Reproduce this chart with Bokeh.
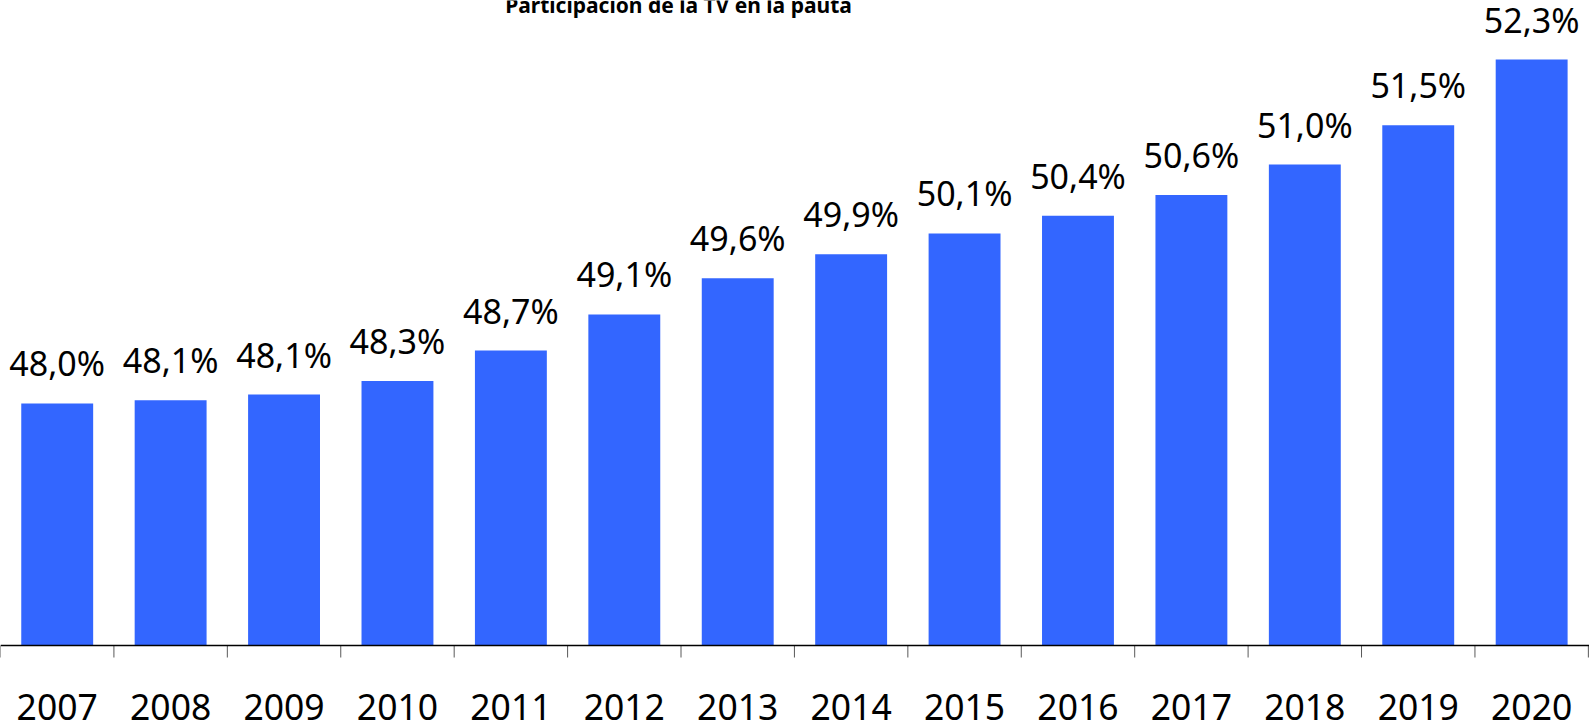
import numpy as np
from bokeh.plotting import figure
from bokeh.models import ColumnDataSource, Range1d, Label, Span
from bokeh.core.properties import value
from bokeh.embed import file_html
from bokeh.resources import INLINE

years = ["2007", "2008", "2009", "2010", "2011", "2012", "2013",
         "2014", "2015", "2016", "2017", "2018", "2019", "2020"]
share = [48.02, 48.06, 48.13, 48.30, 48.68, 49.13, 49.58,
         49.88, 50.14, 50.36, 50.62, 51.00, 51.49, 52.31]
title_text = "Participación de la TV en la pauta"

BASE = 45.0           # value at which the category axis sits
PX_PER_UNIT = 80.16   # vertical scale (pixels per percentage point)
TICK_LEN = 12 / PX_PER_UNIT

xs = np.arange(len(years)) + 0.5
edges = np.arange(len(years) + 1)
labels = [f"{v:.1f}".replace(".", ",") + "%" for v in share]
src = ColumnDataSource(dict(x=xs, y=share, label=labels, year=years,
                            base=[BASE] * len(years)))
tsrc = ColumnDataSource(dict(x=edges, y0=[BASE] * len(edges),
                             y1=[BASE - TICK_LEN] * len(edges)))

W, H = 1589, 727
AXIS_PX = 645  # pixel row of the category axis
p = figure(width=W, height=H, output_backend="svg", toolbar_location=None,
           x_range=Range1d(0, len(years) + 0.01),
           y_range=Range1d(BASE - (H - AXIS_PX) / PX_PER_UNIT, BASE + AXIS_PX / PX_PER_UNIT),
           x_axis_location=None, y_axis_location=None,
           min_border_left=0, min_border_right=0, min_border_top=0, min_border_bottom=0)
p.outline_line_color = None
p.xgrid.visible = False
p.ygrid.visible = False
p.background_fill_color = "white"
p.border_fill_color = "white"

p.vbar(x="x", top="y", bottom=BASE, width=0.634, source=src,
       fill_color="#3366FF", line_color=None)

# data labels
p.text(x="x", y="y", text="label", source=src, text_align="center",
       text_baseline="alphabetic", y_offset=-40,
       text_font=value("Noto Sans"), text_font_size="34px", text_color="black")

# category axis: line, boundary ticks, year labels
p.add_layout(Span(location=BASE, dimension="width", line_color="black", line_width=1.5))
p.segment(x0="x", y0="y0", x1="x", y1="y1", source=tsrc,
          line_color="#595959", line_width=1)
p.text(x="x", y="base", text="year", source=src, text_align="center",
       text_baseline="alphabetic", y_offset=61,
       text_font=value("Noto Sans"), text_font_size="35.5px", text_color="black")

p.add_layout(Label(x=678, y=723, x_units="screen", y_units="screen",
                   text=title_text, text_align="center", text_baseline="alphabetic",
                   text_font="Noto Sans", text_font_style="bold",
                   text_font_size="21px", text_color="black"))

open("out.html", "w").write(file_html(p, INLINE))
